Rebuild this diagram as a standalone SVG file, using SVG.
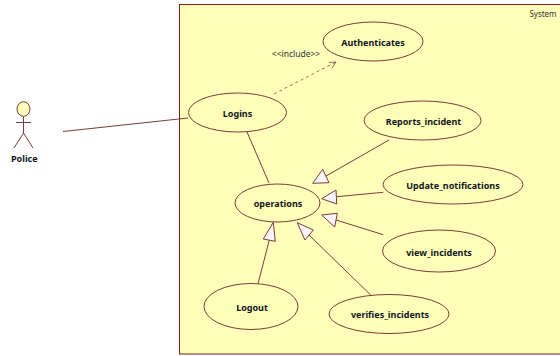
<svg xmlns="http://www.w3.org/2000/svg" width="560" height="356" viewBox="0 0 560 356">
<style>
.b{fill:#ffffb9;stroke:#7a2020;stroke-width:1}
.u{fill:#ffffb9;stroke:#7a3c3c;stroke-width:1}
.l{fill:none;stroke:#7a3c3c;stroke-width:1}
.d{fill:none;stroke:#6a5040;stroke-width:.8}
.t{fill:#f8f6fa;stroke:#7a3c3c;stroke-width:1}
text{font-family:"Noto Sans","Liberation Sans",sans-serif;font-weight:700;font-size:9px;fill:#10151c;text-anchor:middle}
text.n{font-weight:400;font-size:8.5px;fill:#303438}
</style>
<rect width="560" height="356" fill="#fff"/>
<g id="system"><rect class="b" x="179.5" y="4.5" width="384" height="349.5"/><text class="n" x="543" y="17" style="font-size:8px">System</text></g>
<g id="connectors">
<path class="l" d="M63 131.5L188 118"/>
<path class="l" d="M247 132L269 183"/>
<path class="d" d="M274 94L336 62" stroke-dasharray="3 3"/>
<path class="d" d="M329 62.5L336 62L332 68"/>
<path class="l" d="M389 140L326 176"/><path class="t" d="M312.7 183.3L322.7 169.3L329 182.7Z"/>
<path class="l" d="M383.3 192.3L336.7 196.7"/><path class="t" d="M321.7 198.7L336 190L336.7 204Z"/>
<path class="l" d="M383.3 234.7L336 220"/><path class="t" d="M321.7 215L337.3 213.3L334.7 227Z"/>
<path class="l" d="M258 283.7L269.3 240"/><path class="t" d="M273.3 222.3L263.3 239L275.3 241.3Z"/>
<path class="l" d="M370.7 295L309 235"/><path class="t" d="M297.3 222.7L313.3 230L305 240Z"/>
</g>
<g id="police">
<ellipse class="u" cx="23.5" cy="109" rx="6.5" ry="7.3"/>
<path class="l" d="M16 122.5H31M23.5 116.5V133M14 148L23.5 133L33 148"/>
<text x="24.3" y="162">Police</text>
</g>
<g id="authenticates"><ellipse class="u" cx="373" cy="41.5" rx="50" ry="19.5"/><text x="373" y="46">Authenticates</text></g>
<g id="logins"><ellipse class="u" cx="237.5" cy="112.5" rx="49" ry="19.5"/><text x="237.5" y="117">Logins</text></g>
<g id="reports_incident"><ellipse class="u" cx="422.5" cy="120.5" rx="58.5" ry="19.5"/><text x="423.5" y="125">Reports_incident</text></g>
<g id="operations"><ellipse class="u" cx="277.5" cy="203" rx="42.5" ry="19"/><text x="278" y="207">operations</text></g>
<g id="update_notifications"><ellipse class="u" cx="453" cy="184.5" rx="70" ry="19.5"/><text x="453" y="189">Update_notifications</text></g>
<g id="view_incidents"><ellipse class="u" cx="439" cy="251" rx="56.5" ry="21"/><text x="439" y="256">view_incidents</text></g>
<g id="logout"><ellipse class="u" cx="251" cy="306.5" rx="47" ry="23"/><text x="252" y="311">Logout</text></g>
<g id="verifies_incidents"><ellipse class="u" cx="389" cy="314" rx="60" ry="19.5"/><text x="390" y="318">verifies_incidents</text></g>
<text class="n" x="296" y="57">&lt;&lt;include&gt;&gt;</text>
</svg>
